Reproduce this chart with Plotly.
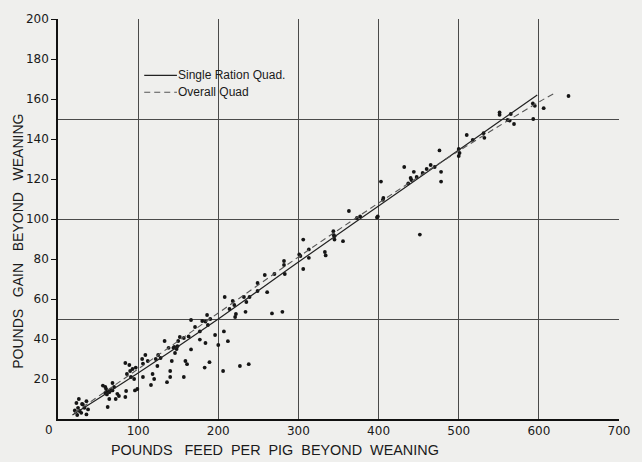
import plotly.graph_objects as go

# ---- data ----
feed = [23, 25, 31, 35.5, 27, 29, 21, 35.5, 33, 37.5, 24, 30, 26,
        56, 59, 62, 59, 61, 64, 68, 70, 68, 62, 64, 74, 76, 72, 66, 60,
        84, 89, 86, 85, 84, 91, 93, 95, 96, 99, 97, 90,
        105, 106, 109, 106, 116, 118, 120, 122, 124, 125, 112, 128,
        133, 136, 138, 140, 140, 142, 144, 146, 149, 150, 152, 157, 159, 161, 157, 163, 166, 166, 148, 145,
        171, 177, 177, 183, 184, 184, 186, 187, 189, 196, 200, 206, 208, 207, 212, 214, 218, 220, 221, 222,
        227, 232, 234, 235, 238, 239, 180, 190,
        249, 249, 258, 261, 267, 270, 280, 282, 282, 283, 301, 306, 306, 313, 313, 302.5,
        333, 334, 344, 345, 345, 355.6, 343.6, 363,
        373, 377, 399, 398, 403, 405.4, 406,
        432, 437, 441, 444, 447.5, 451.5, 455, 460, 470, 476, 478, 478, 440, 465,
        500, 501, 500, 510, 517.5, 531, 532,
        551, 551, 561, 563.6, 565, 569, 592.5, 595, 593, 606, 637]
gain = [8, 5.6, 7.3, 8.9, 4, 3.1, 4.3, 2.3, 5.6, 4.8, 2, 7.5, 10,
        16.7, 16, 14, 13, 12.3, 13.4, 14.3, 16, 18, 6, 10, 12.6, 11.5, 10, 14.5, 15,
        28, 27, 22.5, 14, 11, 21, 25, 20, 14.3, 15, 25.7, 24,
        30, 27.7, 32, 21, 17, 22.5, 20, 30, 26.5, 32, 29, 30.5,
        39, 18.4, 35.6, 24, 21, 29, 35.6, 33, 36.4, 39, 41, 21, 29, 27.4, 40.5, 41.3, 49.5, 34.8, 35, 36,
        46, 39.7, 43.8, 25.7, 48.7, 38, 52, 47, 28.4, 42, 37, 24, 61, 43.8, 38.9, 55, 59, 57, 51, 52.5,
        26.5, 61, 53.6, 58.5, 27.4, 61, 49, 50,
        68, 64, 72, 63.4, 52.8, 72.5, 53.6, 77, 79, 72.5, 82.3, 75, 89.7, 84.8, 80.6, 81.5,
        83.5, 81.8, 92, 91.4, 89.7, 88.9, 93.9, 104,
        100.5, 101.3, 101.3, 100.8, 118.7, 109.6, 110.5,
        126, 117.8, 119.5, 123.6, 121, 92.2, 123, 125, 126, 134.3, 123.6, 118.7, 120.5, 127,
        135, 133, 131.5, 142, 139.6, 142.9, 140.6,
        153.3, 152.1, 149.5, 149.2, 152.5, 147.5, 157.8, 156.6, 150, 155.4, 161.5]

single_x = [18, 100, 200, 300, 400, 500, 598]
single_y = [2, 23, 50, 78.5, 106.5, 134.5, 162]
overall_x = [20, 100, 200, 300, 400, 500, 600, 620]
overall_y = [3, 25, 53, 81, 108, 134, 158.5, 163]

x_ticks = [100, 200, 300, 400, 500, 600, 700]
y_ticks = [20, 40, 60, 80, 100, 120, 140, 160, 180, 200]
y_grid = [50, 100, 150, 200]
legend_names = ["Single Ration Quad.", "Overall Quad"]

BG = "#efefed"
GRID = "#4a4a4a"
TICKFONT = dict(family="DejaVu Sans", size=12, color="#1a1a1a")
TITLEFONT = dict(family="Liberation Sans, Arial", size=14, color="#1a1a1a")
LEGFONT = dict(family="Liberation Sans, Arial", size=12, color="#1a1a1a")
SOLID = dict(color="#222", width=1.2)
DASHED = dict(color="#555", width=1.1, dash="6px,4px")

fig = go.Figure()
fig.add_trace(go.Scatter(x=feed, y=gain, mode="markers", showlegend=False,
                         marker=dict(size=3.8, color="#151515")))
fig.add_trace(go.Scatter(x=single_x, y=single_y, mode="lines", name=legend_names[0],
                         showlegend=False, line=dict(shape="spline", **SOLID)))
fig.add_trace(go.Scatter(x=overall_x, y=overall_y, mode="lines", name=legend_names[1],
                         showlegend=False, line=dict(shape="spline", **DASHED)))

fig.update_layout(
    width=642, height=462,
    margin=dict(l=58, r=18, t=14, b=43),
    paper_bgcolor=BG, plot_bgcolor=BG,
    xaxis=dict(range=[0, 700], tickvals=x_ticks, ticktext=[str(v) for v in x_ticks],
               showgrid=True, gridcolor=GRID, gridwidth=1, zeroline=False,
               showline=True, linecolor="#111", linewidth=1.6, ticks="",
               tickfont=TICKFONT),
    yaxis=dict(range=[0, 200], tickvals=y_ticks, ticktext=[str(v) for v in y_ticks],
               showgrid=False, zeroline=False,
               showline=True, linecolor="#111", linewidth=1.6,
               ticks="outside", ticklen=5, tickcolor="#111", tickwidth=1.2,
               tickfont=TICKFONT,
               minor=dict(tickvals=y_grid, showgrid=True, gridcolor=GRID, gridwidth=1, ticks="")),
)

# legend drawn by hand (line samples + labels)
leg_rows = [(0.859, SOLID, legend_names[0]), (0.817, DASHED, legend_names[1])]
for ypos, style, name in leg_rows:
    fig.add_shape(type="line", xref="paper", yref="paper", x0=0.1537, x1=0.212,
                  y0=ypos, y1=ypos, line=style)
    fig.add_annotation(text=name, x=0.211, y=ypos, xref="paper", yref="paper",
                       showarrow=False, xanchor="left", yanchor="middle", font=LEGFONT)

fig.add_annotation(text="0", x=-0.016, y=-0.027, xref="paper", yref="paper", showarrow=False,
                   font=TICKFONT, xanchor="center", yanchor="middle")
nb = "\u00a0"
fig.add_annotation(text=f"POUNDS{nb*3}FEED{nb*2}PER{nb*2}PIG{nb*2}BEYOND{nb*2}WEANING",
                   x=0.387, y=-0.0765, xref="paper", yref="paper", showarrow=False,
                   font=dict(TITLEFONT, size=14.4), xanchor="center", yanchor="middle")
fig.add_annotation(text=f"POUNDS{nb*3}GAIN{nb*3}BEYOND{nb*3}WEANING",
                   x=-0.0707, y=0.444, xref="paper", yref="paper", showarrow=False,
                   textangle=-90, font=TITLEFONT, xanchor="center", yanchor="middle")

fig.write_html("out.html")
